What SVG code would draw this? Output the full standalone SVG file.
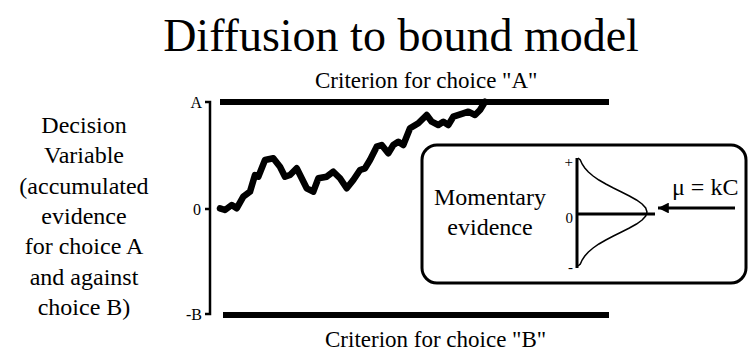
<svg xmlns="http://www.w3.org/2000/svg" width="748" height="354" viewBox="0 0 748 354" font-family="'Liberation Serif', 'Times New Roman', serif">
<defs>
<style>
.t{font-family:'Liberation Serif','Times New Roman',serif;fill:#000}
.big{font-size:24px;text-anchor:middle}
.crit{font-size:23px}
.tick{font-size:16px;text-anchor:end}
.small{font-size:15px;text-anchor:end}
.bar{stroke:#000;stroke-width:6;fill:none}
.ax{stroke:#000;stroke-width:2.5;fill:none}
</style>
<marker id="ah" viewBox="0 0 10 10" refX="10" refY="5" markerWidth="5" markerHeight="3.6" orient="auto" markerUnits="strokeWidth">
<path d="M0,0 L10,5 L0,10 z" fill="#000"/>
</marker>
</defs>
<rect width="748" height="354" fill="#fff"/>
<text class="t" x="401" y="51" font-size="46" text-anchor="middle">Diffusion to bound model</text>

<g id="ylabel">
<text class="t big" x="84" y="133">Decision</text>
<text class="t big" x="84" y="163">Variable</text>
<text class="t big" x="84" y="194">(accumulated</text>
<text class="t big" x="84" y="224">evidence</text>
<text class="t big" x="84" y="254">for choice A</text>
<text class="t big" x="84" y="285">and against</text>
<text class="t big" x="84" y="315">choice B)</text>
</g>

<g id="axis">
<path class="ax" d="M205,102 H210 V314 H205 M205,209 H210"/>
<text class="t tick" x="202" y="108">A</text>
<text class="t tick" x="201" y="215">0</text>
<text class="t tick" x="202" y="320">-B</text>
</g>

<g id="criterionA">
<line class="bar" x1="220" y1="102" x2="609" y2="102"/>
<text class="t crit" x="315" y="88">Criterion for choice "A"</text>
</g>

<g id="criterionB">
<line class="bar" x1="223" y1="315" x2="609" y2="315"/>
<text class="t crit" x="325" y="347">Criterion for choice "B"</text>
</g>

<g id="connectors">
<path d="M220,208.3 L225,210 L231.7,205 L236.7,208.3 L243.3,196.7 L250,191.7 L255,175 L258.3,176.7 L265,160 L273.3,158.3 L280,166.7 L285,176.7 L290,175 L296.7,168.3 L301.7,178.3 L306.7,188.3 L313.3,191.7 L318.3,178.3 L326.7,176.7 L333.3,171.7 L340,178.3 L346.7,188.3 L353.3,180 L360,170 L365,168.3 L370,160 L376.7,146.7 L381.7,145 L388.3,153.3 L393.3,145 L398.3,141.7 L403.3,145 L410,128.3 L418.3,123.3 L426.7,115 L431.7,121.7 L438.3,125 L443.3,121.7 L448.3,125 L453.3,116.7 L463.3,113.3 L468.3,111.7 L475,115 L480,110 L485,101.7" fill="none" stroke="#000" stroke-width="6.5" stroke-linejoin="round" stroke-linecap="round"/>
<line x1="735" y1="208" x2="658" y2="208" stroke="#000" stroke-width="3" marker-end="url(#ah)"/>
</g>

<g id="evidenceBox">
<rect x="422" y="145" width="324" height="138" rx="15" ry="15" fill="none" stroke="#000" stroke-width="3"/>
<text class="t big" x="490" y="205">Momentary</text>
<text class="t big" x="490" y="235">evidence</text>
<line x1="577" y1="158" x2="577" y2="268" stroke="#000" stroke-width="3"/>
<line x1="577" y1="214" x2="655" y2="214" stroke="#000" stroke-width="3"/>
<polyline fill="none" stroke="#000" stroke-width="1.5" points="578,158 580.3,160 582.1,164 584.8,168 588.4,172 593.1,176 598.9,180 605.8,184 613.4,188 621.5,192 629.4,196 636.5,200 642.1,204 645.7,208 647,212 645.7,216 642.1,220 636.5,224 629.4,228 621.5,232 613.4,236 605.8,240 598.9,244 593.1,248 588.4,252 584.8,256 582.1,260 580.3,264 578,266"/>
<text class="t small" x="573" y="167">+</text>
<text class="t small" x="573" y="223">0</text>
<text class="t small" x="573" y="272">-</text>
<text class="t" x="672" y="195" font-size="24">μ = kC</text>
</g>
</svg>
